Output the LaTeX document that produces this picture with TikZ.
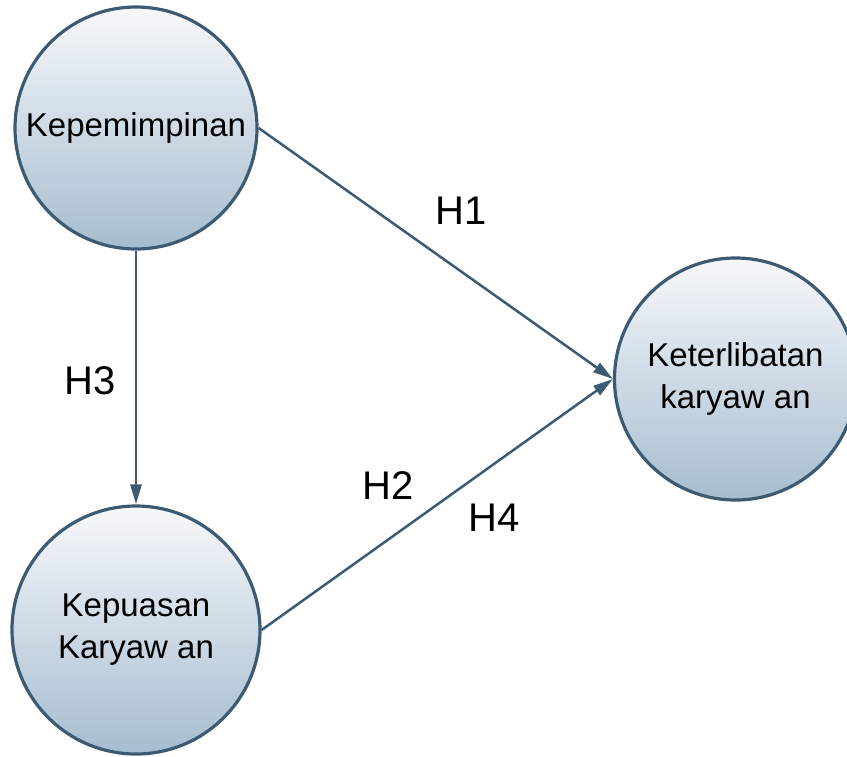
\documentclass[tikz,border=0pt]{standalone}
\usepackage{fontspec}
\setmainfont{Liberation Sans}
\usetikzlibrary{arrows.meta}
\definecolor{edgecol}{RGB}{61,90,115}
\definecolor{filltop}{RGB}{246,248,251}
\definecolor{fillbot}{RGB}{166,189,207}
\tikzset{
  var/.style={circle, draw=edgecol, line width=3.2pt, inner sep=0pt,
    top color=filltop, bottom color=fillbot, align=center,
    font=\fontsize{33}{42}\selectfont},
  conn/.style={draw=edgecol, line width=2.5pt,
    -{Triangle[length=20pt,width=11pt]}},
  hlabel/.style={font=\fontsize{40}{40}\selectfont, inner sep=0pt}
}
\begin{document}
\begin{tikzpicture}[x=1pt,y=-1pt]
\useasboundingbox (0,0) rectangle (847,756);
\node[var, minimum size=242pt] (kep) at (136,128) {Kepemimpinan};
\node[var, minimum size=248pt] (kpk) at (136,630) {Kepuasan\\Karyaw an};
\node[var, minimum size=242pt] (ket) at (735.5,379) {Keterlibatan\\karyaw an};
\draw[conn] (kep) -- (kpk);
\draw[conn] (kep.east) -- (ket.west);
\draw[conn] (kpk.east) -- (ket.west);
\node[hlabel] (h1) at (461,211) {H1};
\node[hlabel] (h3) at (90,381) {H3};
\node[hlabel] (h2) at (388,486) {H2};
\node[hlabel] (h4) at (494,518) {H4};
\end{tikzpicture}
\end{document}
